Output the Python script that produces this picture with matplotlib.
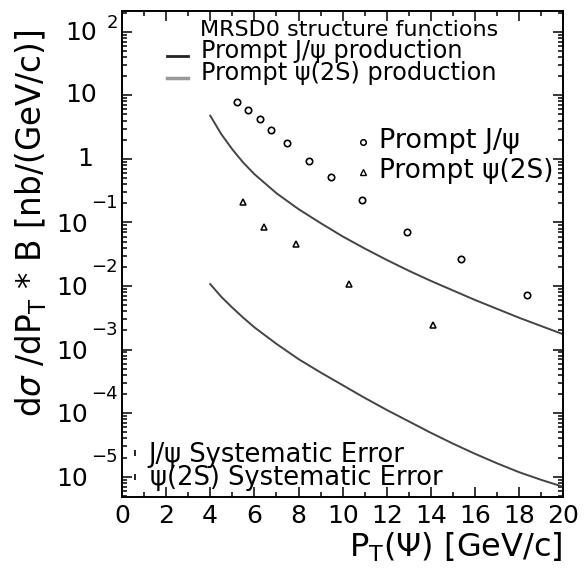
import numpy as np
import matplotlib.pyplot as plt
from matplotlib.ticker import MultipleLocator, LogLocator, NullFormatter

plt.rcParams['font.family'] = ['DejaVu Sans']
plt.rcParams['mathtext.fontset'] = 'dejavusans'

# measured prompt cross sections
pt_jpsi = [5.20, 5.72, 6.25, 6.74, 7.46, 8.46, 9.46, 10.89, 12.91, 15.36, 18.36]
xs_jpsi = [7.92, 5.87, 4.19, 2.84, 1.80, 0.925, 0.524, 0.225, 0.0715, 0.0263, 0.0073]
pt_psi2s = [5.47, 6.44, 7.88, 10.30, 14.08]
xs_psi2s = [0.212, 0.0857, 0.0457, 0.0107, 0.00243]

# theory curves (MRSD0), log10 of the cross section
pt_theory = [4, 4.5, 5, 5.5, 6, 7, 8, 9, 10, 11, 12, 13, 14, 15, 16, 17, 18, 19, 20]
log_theory_jpsi = [0.68, 0.39, 0.15, -0.06, -0.24, -0.54, -0.79, -1.01, -1.22, -1.41,
                   -1.59, -1.76, -1.92, -2.07, -2.22, -2.36, -2.50, -2.63, -2.76]
log_theory_psi2s = [-1.97, -2.17, -2.34, -2.50, -2.65, -2.91, -3.15, -3.36, -3.56, -3.76,
                    -3.95, -4.13, -4.31, -4.48, -4.64, -4.79, -4.93, -5.05, -5.16]

fig = plt.figure(figsize=(5.85, 5.71), dpi=100)
ax = fig.add_axes([0.2085, 0.1301, 0.7544, 0.8506])

ax.plot(pt_theory, 10.0 ** np.array(log_theory_jpsi), color='#444444', lw=1.4)
ax.plot(pt_theory, 10.0 ** np.array(log_theory_psi2s), color='#444444', lw=1.4)
ax.plot(pt_jpsi, xs_jpsi, 'o', ms=4.6, mfc='none', mec='black', mew=1.2)
ax.plot(pt_psi2s, xs_psi2s, '^', ms=4.6, mfc='none', mec='black', mew=1.1)

ax.set_yscale('log')
ax.set_xlim(0, 20)
ax.set_ylim(4.84e-6, 212)

ax.xaxis.set_major_locator(MultipleLocator(2))
ax.xaxis.set_minor_locator(MultipleLocator(1))
ax.yaxis.set_major_locator(LogLocator(base=10))
ax.yaxis.set_minor_locator(LogLocator(base=10, subs=np.arange(2, 10)))
ax.yaxis.set_major_formatter(NullFormatter())
ax.yaxis.set_minor_formatter(NullFormatter())
ax.tick_params(which='both', direction='in', top=True, right=True, width=1.1)
ax.tick_params(which='major', length=7)
ax.tick_params(which='minor', length=3.5)
ax.tick_params(axis='x', labelsize=18, pad=5)
for s in ax.spines.values():
    s.set_linewidth(1.4)

# decade labels in the 10^n style
for k in range(-5, 3):
    y = 10.0 ** k
    if k == 0:
        ax.annotate('1', xy=(0, y), xycoords=('axes fraction', 'data'),
                    xytext=(-20.9, 0), textcoords='offset points',
                    ha='right', va='center', fontsize=18)
    elif k == 1:
        ax.annotate('10', xy=(0, y), xycoords=('axes fraction', 'data'),
                    xytext=(-18, 0), textcoords='offset points',
                    ha='right', va='center', fontsize=18)
    elif k == 2:
        ax.annotate('10', xy=(0, y), xycoords=('axes fraction', 'data'),
                    xytext=(-18, -0.6), textcoords='offset points',
                    ha='right', va='center', fontsize=18)
        ax.annotate('2', xy=(0, y), xycoords=('axes fraction', 'data'),
                    xytext=(-2.9, 6.6), textcoords='offset points',
                    ha='right', va='center', fontsize=13)
    else:
        ax.annotate('10', xy=(0, y), xycoords=('axes fraction', 'data'),
                    xytext=(-24.5, -1.5), textcoords='offset points',
                    ha='right', va='center', fontsize=18)
        ax.annotate('\u2212%d' % -k, xy=(0, y), xycoords=('axes fraction', 'data'),
                    xytext=(-2.9, 14), textcoords='offset points',
                    ha='right', va='center', fontsize=13)

fig.text(0.053, 0.609, r'd$\sigma$ /dP$_{\mathrm{T}}$ * B [nb/(GeV/c)]',
         rotation=90, ha='center', va='center', fontsize=23.5)
fig.text(0.962, 0.042, 'P$_{\\mathrm{T}}$(\u03a8) [GeV/c]',
         ha='right', va='center', fontsize=23)

# theory legend
ax.text(0.177, 0.949, 'MRSD0 structure functions', transform=ax.transAxes,
        fontsize=16, va='baseline')
ax.plot([0.102, 0.150], [0.908, 0.908], color='#222222', lw=2, transform=ax.transAxes)
ax.text(0.179, 0.903, 'Prompt J/\u03c8 production', transform=ax.transAxes,
        fontsize=17.3, va='baseline')
ax.plot([0.102, 0.150], [0.862, 0.862], color='#999999', lw=2.5, transform=ax.transAxes)
ax.text(0.179, 0.858, 'Prompt \u03c8(2S) production', transform=ax.transAxes,
        fontsize=17.3, va='baseline')

# data legend
ax.plot([0.546], [0.730], 'o', ms=4, mfc='none', mec='black', mew=1.1, transform=ax.transAxes)
ax.text(0.582, 0.717, 'Prompt J/\u03c8', transform=ax.transAxes, fontsize=19.5, va='baseline')
ax.plot([0.546], [0.668], '^', ms=4, mfc='none', mec='black', mew=1.0, transform=ax.transAxes)
ax.text(0.582, 0.656, 'Prompt \u03c8(2S)', transform=ax.transAxes, fontsize=19, va='baseline')

# systematic error legend
ax.plot([0.0295, 0.0295], [0.090, 0.0406], '|', ms=4, mew=1.2, color='black', transform=ax.transAxes)
ax.text(0.059, 0.072, 'J/\u03c8 Systematic Error', transform=ax.transAxes,
        fontsize=18.5, va='baseline')
ax.text(0.0634, 0.024, '\u03c8(2S) Systematic Error', transform=ax.transAxes,
        fontsize=18.5, va='baseline')

fig.savefig('out.png', dpi=100)
